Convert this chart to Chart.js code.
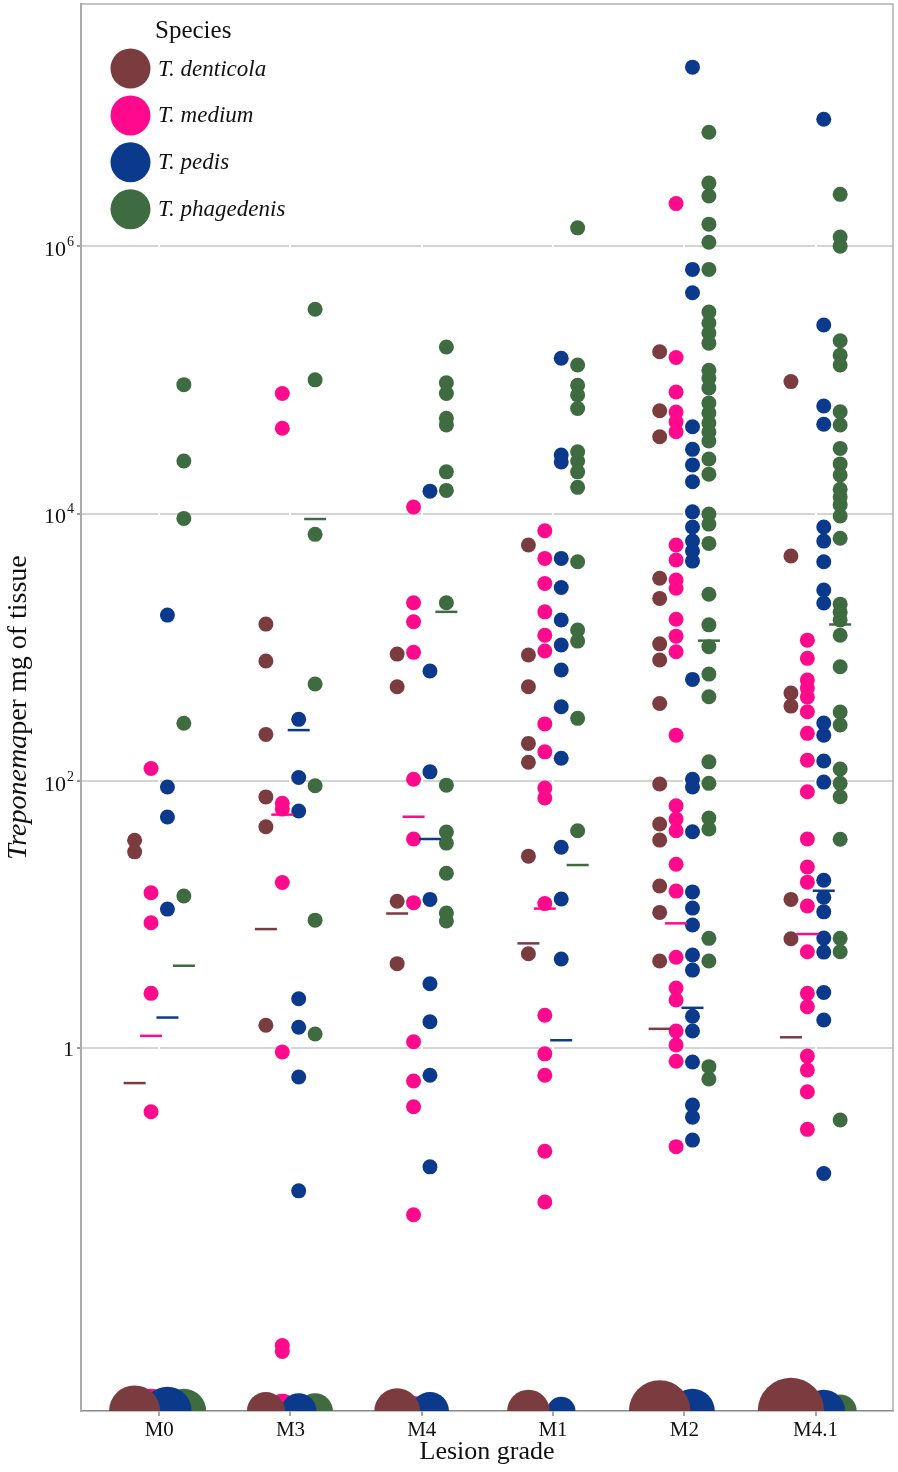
<!DOCTYPE html>
<html>
<head>
<meta charset="utf-8">
<script src="https://cdn.jsdelivr.net/npm/chart.js@4.4.1/dist/chart.umd.min.js"></script>
<style>
  html, body { margin: 0; padding: 0; background: #fff; }
  #wrap { width: 898px; height: 1472px; }
</style>
</head>
<body>
<div id="wrap"><canvas id="chart" width="898" height="1472"></canvas></div>
<script>
// lesion grades (x categories) and species
const grades = ["M0", "M3", "M4", "M1", "M2", "M4.1"];
const species = ["T. denticola", "T. medium", "T. pedis", "T. phagedenis"];
const colors = ["#7b3c40", "#ff0a8c", "#0b3a8c", "#3e6b40"];

// Treponema per mg of tissue, one list per grade (same order as grades)
const denticola = [
  [36, 29.5],
  [1490, 789, 223, 76, 45.4, 1.49],
  [889, 507, 12.6, 4.3],
  [5810, 875, 507, 191, 138, 27.4, 5.1],
  [1.62e5, 5.87e4, 3.75e4, 3280, 2320, 1060, 802, 380, 94.8, 47.6, 36.1, 16.4, 10.4, 4.5],
  [9.7e4, 4810, 454, 363, 13, 6.6]
];
const medium = [
  [124, 14.6, 8.7, 2.58, 0.336],
  [7.9e4, 4.34e4, 68, 61.6, 17.4, 0.94, 0.006, 0.0054],
  [1.12e4, 2150, 1550, 916, 103, 36.8, 12.3, 1.12, 0.57, 0.366, 0.057],
  [7430, 4620, 3000, 1840, 1230, 937, 267, 165, 88.5, 74.5, 12.1, 1.77, 0.91, 0.63, 0.17, 0.071],
  [2.08e6, 1.47e5, 8.1e4, 5.74e4, 4.86e4, 4.09e4, 5810, 4490, 3180, 2760, 1620, 1210, 925, 220,
   65.3, 51.9, 42.4, 23.8, 15, 4.8, 2.83, 2.3, 1.35, 1.06, 0.8, 0.184],
  [1130, 826, 569, 495, 424, 329, 227, 143, 83, 36.8, 22.7, 17.5, 11.6, 5.28, 2.58, 2.05,
   0.875, 0.688, 0.474, 0.248]
];
const pedis = [
  [1740, 90, 53.7, 11],
  [289, 106, 59.6, 2.35, 1.44, 0.61, 0.086],
  [1.47e4, 664, 117, 13, 3.04, 1.58, 0.63, 0.13],
  [1.45e5, 2.74e4, 2.43e4, 4620, 2800, 1600, 1040, 675, 359, 148, 31.9, 13.1, 4.66],
  [2.18e7, 6.7e5, 4.48e5, 4.46e4, 3.02e4, 2.31e4, 1.73e4, 1.03e4, 7930, 6220, 5240, 4410, 575,
   103, 90, 41.7, 14.8, 11.2, 8.36, 4.99, 3.85, 1.74, 1.35, 0.79, 0.377, 0.306, 0.206],
  [8.9e6, 2.57e5, 6.37e4, 4.65e4, 7930, 6220, 4360, 2680, 2140, 271, 220, 141, 98, 18.1, 13.5,
   10.5, 6.68, 5.25, 2.62, 1.63, 0.116]
];
const phagedenis = [
  [9.2e4, 2.47e4, 9200, 270, 13.8],
  [3.37e5, 1.0e5, 6990, 531, 92, 9.1, 1.28],
  [1.76e5, 9.5e4, 7.9e4, 5.15e4, 4.6e4, 2.05e4, 1.49e4, 2150, 93, 41.5, 34.3, 20.4, 10.3, 8.96],
  [1.37e6, 1.29e5, 9.1e4, 7.7e4, 6.1e4, 2.9e4, 2.47e4, 2.05e4, 1.57e4, 4360, 1345, 1112, 294, 42.4],
  [7.1e6, 2.96e6, 2.37e6, 1.46e6, 1.07e6, 6.7e5, 3.21e5, 2.66e5, 2.24e5, 1.88e5, 1.18e5, 1.03e5,
   8.7e4, 6.7e4, 5.65e4, 4.75e4, 4.07e4, 3.49e4, 2.56e4, 1.97e4, 9910, 8340, 5980, 2490, 1470,
   1010, 630, 426, 139, 96, 52.8, 43.7, 6.65, 4.5, 0.73, 0.59],
  [2.44e6, 1.17e6, 1.0e6, 1.96e5, 1.53e5, 1.29e5, 5.77e4, 4.59e4, 3.07e4, 2.35e4, 1.94e4, 1.52e4,
   1.33e4, 1.16e4, 9580, 6530, 2100, 1830, 1600, 1230, 715, 328, 262, 123, 96, 76.2, 36.6, 6.65,
   5.28, 0.291]
];

// summary bar per grade
const denticolaMean = [0.55, 7.8, 10.2, 6.1, 1.40, 1.21];
const mediumMean = [1.24, 56, 54, 11.1, 8.61, 7.16];
const pedisMean = [1.7, 240, 36.8, 1.15, 2.01, 15.1];
const phagedenisMean = [4.15, 9100, 1840, 23.5, 1120, 1480];

// number of zero counts per grade (bubbles on the bottom edge)
const denticolaZeros = [29, 16, 23, 20, 42, 49];
const mediumZeros = [22, 13, 10, 0, 18, 8];
const pedisZeros = [26, 14, 16, 9, 22, 20];
const phagedenisZeros = [22, 14, 0, 0, 0, 12];

// y axis
const yTickValues = [1, 100, 1e4, 1e6];
const yTickBase = ["1", "10", "10", "10"];
const yTickExp = ["", "2", "4", "6"];
const Y_MIN = 0.00194, Y_MAX = 6.47e7;

const values = [denticola, medium, pedis, phagedenis];
const means = [denticolaMean, mediumMean, pedisMean, phagedenisMean];
const zeros = [denticolaZeros, mediumZeros, pedisZeros, phagedenisZeros];
const dodge = [-0.1875, -0.0625, 0.0625, 0.1875];
const SERIF = "'Liberation Serif', 'Times New Roman', serif";

function dots(groups, s){
  const out = [];
  groups.forEach((vals, g) => vals.forEach(v => out.push({x: g + dodge[s], y: v})));
  return out;
}

const datasets = [];
// bubbles: phagedenis at the bottom, denticola on top
const bubbleOrder = [5, 7, 6, 8];
species.forEach((name, s) => {
  datasets.push({
    type: "bubble",
    label: name + " zeros",
    data: zeros[s].map((n, g) => n > 0 ? {x: g + dodge[s], y: Y_MIN, r: 4.75 * Math.sqrt(n)} : null)
      .filter(Boolean),
    backgroundColor: colors[s],
    borderWidth: 0,
    hoverRadius: 0,
    clip: 0,
    order: bubbleOrder[s]
  });
});
species.forEach((name, s) => {
  datasets.push({
    type: "scatter",
    label: name,
    data: dots(values[s], s),
    backgroundColor: colors[s],
    borderWidth: 0,
    pointRadius: 7.5,
    pointHoverRadius: 7.5,
    order: 4 - s
  });
});
species.forEach((name, s) => {
  datasets.push({
    type: "scatter",
    label: name + " mean",
    data: means[s].map((v, g) => ({x: g + dodge[s], y: v})),
    pointStyle: "line",
    pointRadius: 11,
    pointBorderColor: colors[s],
    pointBorderWidth: 2.5,
    order: 0
  });
});

/* titles, legend, y labels and the panel frame */
const decor = {
  id: "decor",
  afterDraw(chart){
    const {ctx, chartArea: a, scales} = chart;
    ctx.save();

    // frame
    ctx.strokeStyle = "#b0b0b0";
    ctx.lineWidth = 1.5;
    ctx.beginPath();
    ctx.moveTo(a.left, a.top); ctx.lineTo(a.right, a.top); ctx.lineTo(a.right, a.bottom);
    ctx.stroke();

    // y tick labels with superscripts
    ctx.fillStyle = "#111";
    ctx.textBaseline = "middle";
    yTickValues.forEach((v, i) => {
      const y = scales.y.getPixelForValue(v);
      const right = a.left - 7;
      if (yTickExp[i]) {
        ctx.font = "14px " + SERIF;
        ctx.textAlign = "right";
        ctx.fillText(yTickExp[i], right, y - 4);
        const ew = ctx.measureText(yTickExp[i]).width;
        ctx.font = "22px " + SERIF;
        ctx.fillText(yTickBase[i], right - ew - 1, y + 4);
      } else {
        ctx.font = "22px " + SERIF;
        ctx.textAlign = "right";
        ctx.fillText(yTickBase[i], right, y + 2);
      }
    });

    // y axis title, "Treponema" in italics
    ctx.translate(19, (a.top + a.bottom) / 2);
    ctx.rotate(-Math.PI / 2);
    const p1 = "Treponema", p2 = "per mg of tissue";
    ctx.font = "italic 28px " + SERIF;
    const w1 = ctx.measureText(p1).width;
    ctx.font = "28px " + SERIF;
    const w2 = ctx.measureText(p2).width;
    let x0 = -(w1 + w2) / 2;
    ctx.textAlign = "left";
    ctx.font = "italic 28px " + SERIF;
    ctx.fillText(p1, x0, 0);
    ctx.font = "28px " + SERIF;
    ctx.fillText(p2, x0 + w1, 0);
    ctx.restore();

    // legend inside the panel
    ctx.save();
    ctx.fillStyle = "#111";
    ctx.font = "25px " + SERIF;
    ctx.textAlign = "left";
    ctx.textBaseline = "alphabetic";
    ctx.fillText("Species", 155, 38);
    species.forEach((name, s) => {
      const cy = 68.5 + s * 46.9;
      ctx.beginPath();
      ctx.arc(130.5, cy, 20, 0, Math.PI * 2);
      ctx.fillStyle = colors[s];
      ctx.fill();
      ctx.fillStyle = "#111";
      ctx.font = "italic 23px " + SERIF;
      ctx.textBaseline = "middle";
      ctx.fillText(name, 158, cy + 1);
    });
    ctx.restore();
  }
};

new Chart(document.getElementById("chart"), {
  type: "scatter",
  data: {datasets},
  plugins: [decor],
  options: {
    responsive: false,
    animation: false,
    devicePixelRatio: 1,
    events: [],
    layout: {autoPadding: false, padding: {top: 4, right: 5, left: 0, bottom: 0}},
    plugins: {legend: {display: false}, tooltip: {enabled: false}},
    scales: {
      x: {
        type: "linear",
        min: -0.596,
        max: 5.59,
        afterBuildTicks: s => { s.ticks = grades.map((g, i) => ({value: i})); },
        afterFit: s => { s.height = 61; },
        ticks: {
          callback: v => grades[v],
          font: {family: SERIF, size: 21},
          color: "#111",
          padding: 2,
          maxRotation: 0,
          autoSkip: false
        },
        grid: {color: "#ffffff", lineWidth: 2, z: -1, tickLength: 5, tickColor: "#888", tickWidth: 1.5},
        border: {color: "#888", width: 1.5},
        title: {
          display: true,
          text: "Lesion grade",
          font: {family: SERIF, size: 26},
          color: "#111",
          padding: {top: 0, bottom: 4}
        }
      },
      y: {
        type: "logarithmic",
        min: Y_MIN,
        max: Y_MAX,
        afterBuildTicks: s => { s.ticks = yTickValues.map(v => ({value: v})); },
        afterFit: s => { s.width = 81; },
        ticks: {display: false},
        grid: {color: "#d4d4d4", lineWidth: 2, z: -2, tickLength: 4, tickColor: "#999"},
        border: {color: "#aaa", width: 2}
      }
    }
  }
});
</script>
</body>
</html>
